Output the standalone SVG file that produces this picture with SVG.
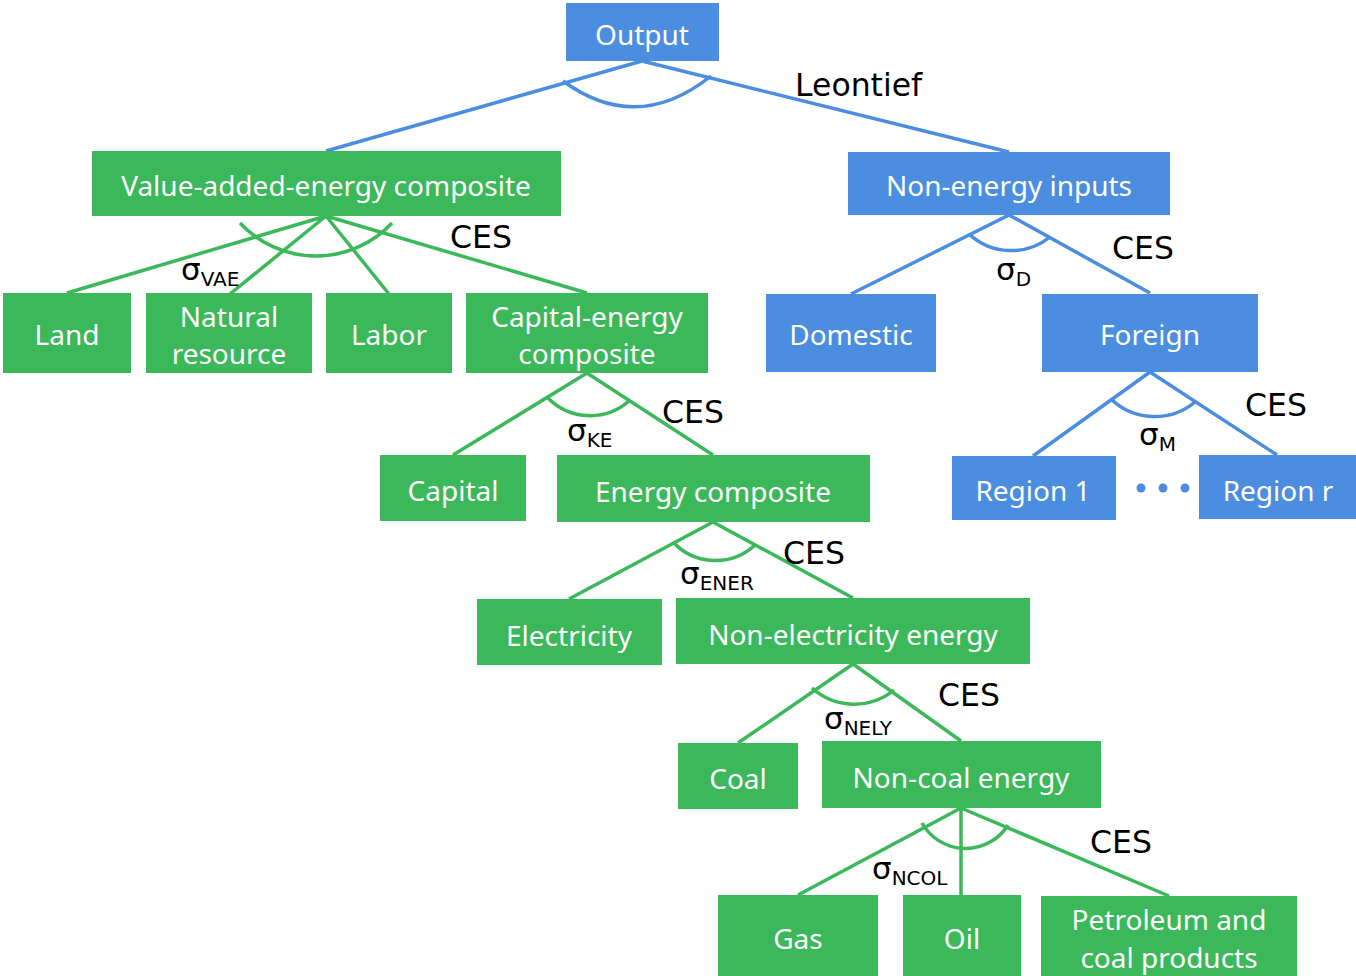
<svg xmlns="http://www.w3.org/2000/svg" width="1356" height="976" viewBox="0 0 1356 976">
<style>
.b{fill:#4b8ddf}
.g{fill:#3bb85a}
.t{fill:#fff;font-family:"Noto Sans","Noto Sans CJK JP",sans-serif;font-size:28px;text-anchor:middle}
.lb{stroke:#4b8ddf;stroke-width:3.5;fill:none}
.lg{stroke:#3bb85a;stroke-width:3.5;fill:none}
.k{fill:#000;font-family:"DejaVu Sans","Noto Sans",sans-serif;font-size:31.5px}
.s{font-size:31px}
.sub{font-size:20px}
</style>
<rect width="1356" height="976" fill="#fff"/>
<g id="connectors">
<path class="lb" d="M642 61L326 151M642 61L1009 152"/>
<path class="lb" d="M563 81Q637 135 711 76"/>
<path class="lb" d="M1009 215L851 294M1009 215L1150 293"/>
<path class="lb" d="M969 234A62 62 0 0 0 1050 237"/>
<path class="lb" d="M1150 372L1033 456M1150 372L1277 455"/>
<path class="lb" d="M1111 399A63 63 0 0 0 1195 402"/>
<path class="lg" d="M326 216L67 293M326 216L230 294M326 216L389 294M326 216L587 293"/>
<path class="lg" d="M240 223A104 104 0 0 0 392 223"/>
<path class="lg" d="M587 373L453 455M587 373L713 455"/>
<path class="lg" d="M548 398A59 59 0 0 0 629 401"/>
<path class="lg" d="M713 522L569 599M713 522L853 598"/>
<path class="lg" d="M673 542A58 58 0 0 0 755 545"/>
<path class="lg" d="M853 664L738 743M853 664L961 741"/>
<path class="lg" d="M812 688A63 63 0 0 0 894 690"/>
<path class="lg" d="M961 808L798 895M961 808L961 895M961 808L1169 896"/>
<path class="lg" d="M922 823A50 50 0 0 0 1008 825"/>
</g>
<g id="labels">
<text class="k" x="795" y="96">Leontief</text>
<text class="k" x="450" y="248">CES</text>
<text class="k" x="1112" y="259">CES</text>
<text class="k" x="662" y="423">CES</text>
<text class="k" x="1245" y="416">CES</text>
<text class="k" x="783" y="564">CES</text>
<text class="k" x="938" y="706">CES</text>
<text class="k" x="1090" y="853">CES</text>
<text class="k" x="181" y="280"><tspan class="s">σ</tspan><tspan class="sub" dy="6">VAE</tspan></text>
<text class="k" x="996" y="280"><tspan class="s">σ</tspan><tspan class="sub" dy="6">D</tspan></text>
<text class="k" x="567" y="441"><tspan class="s">σ</tspan><tspan class="sub" dy="6">KE</tspan></text>
<text class="k" x="1139" y="445"><tspan class="s">σ</tspan><tspan class="sub" dy="6">M</tspan></text>
<text class="k" x="680" y="584"><tspan class="s">σ</tspan><tspan class="sub" dy="6">ENER</tspan></text>
<text class="k" x="824" y="729"><tspan class="s">σ</tspan><tspan class="sub" dy="6">NELY</tspan></text>
<text class="k" x="872" y="879"><tspan class="s">σ</tspan><tspan class="sub" dy="6">NCOL</tspan></text>
<circle cx="1141" cy="488" r="4.5" fill="#4b8ddf"/>
<circle cx="1163" cy="488" r="4.5" fill="#4b8ddf"/>
<circle cx="1185" cy="488" r="4.5" fill="#4b8ddf"/>
</g>
<g id="output"><rect class="b" x="566" y="3" width="153" height="58"/><text class="t" x="642" y="45">Output</text></g>
<g id="vae"><rect class="g" x="92" y="151" width="469" height="65"/><text class="t" x="326" y="196">Value-added-energy composite</text></g>
<g id="nonenergy"><rect class="b" x="848" y="152" width="322" height="63"/><text class="t" x="1009" y="196">Non-energy inputs</text></g>
<g id="land"><rect class="g" x="3" y="293" width="128" height="80"/><text class="t" x="67" y="345">Land</text></g>
<g id="natural"><rect class="g" x="146" y="293" width="166" height="80"/><text class="t" x="229" y="327">Natural</text><text class="t" x="229" y="364">resource</text></g>
<g id="labor"><rect class="g" x="326" y="293" width="126" height="80"/><text class="t" x="389" y="345">Labor</text></g>
<g id="capenergy"><rect class="g" x="466" y="293" width="242" height="80"/><text class="t" x="587" y="327">Capital-energy</text><text class="t" x="587" y="364">composite</text></g>
<g id="domestic"><rect class="b" x="766" y="294" width="170" height="78"/><text class="t" x="851" y="345">Domestic</text></g>
<g id="foreign"><rect class="b" x="1042" y="294" width="216" height="78"/><text class="t" x="1150" y="345">Foreign</text></g>
<g id="capital"><rect class="g" x="380" y="455" width="146" height="66"/><text class="t" x="453" y="501">Capital</text></g>
<g id="energy"><rect class="g" x="557" y="455" width="313" height="67"/><text class="t" x="713" y="502">Energy composite</text></g>
<g id="region1"><rect class="b" x="952" y="456" width="164" height="64"/><text class="t" x="1033" y="501">Region 1</text></g>
<g id="regionr"><rect class="b" x="1199" y="455" width="157" height="64"/><text class="t" x="1278" y="501">Region r</text></g>
<g id="electricity"><rect class="g" x="477" y="599" width="185" height="66"/><text class="t" x="569" y="646">Electricity</text></g>
<g id="nonelec"><rect class="g" x="676" y="598" width="354" height="66"/><text class="t" x="853" y="645">Non-electricity energy</text></g>
<g id="coal"><rect class="g" x="678" y="743" width="120" height="66"/><text class="t" x="738" y="789">Coal</text></g>
<g id="noncoal"><rect class="g" x="822" y="741" width="279" height="67"/><text class="t" x="961" y="788">Non-coal energy</text></g>
<g id="gas"><rect class="g" x="718" y="895" width="160" height="81"/><text class="t" x="798" y="949">Gas</text></g>
<g id="oil"><rect class="g" x="903" y="895" width="118" height="81"/><text class="t" x="962" y="949">Oil</text></g>
<g id="petroleum"><rect class="g" x="1041" y="896" width="256" height="80"/><text class="t" x="1169" y="930">Petroleum and</text><text class="t" x="1169" y="968">coal products</text></g>
</svg>
